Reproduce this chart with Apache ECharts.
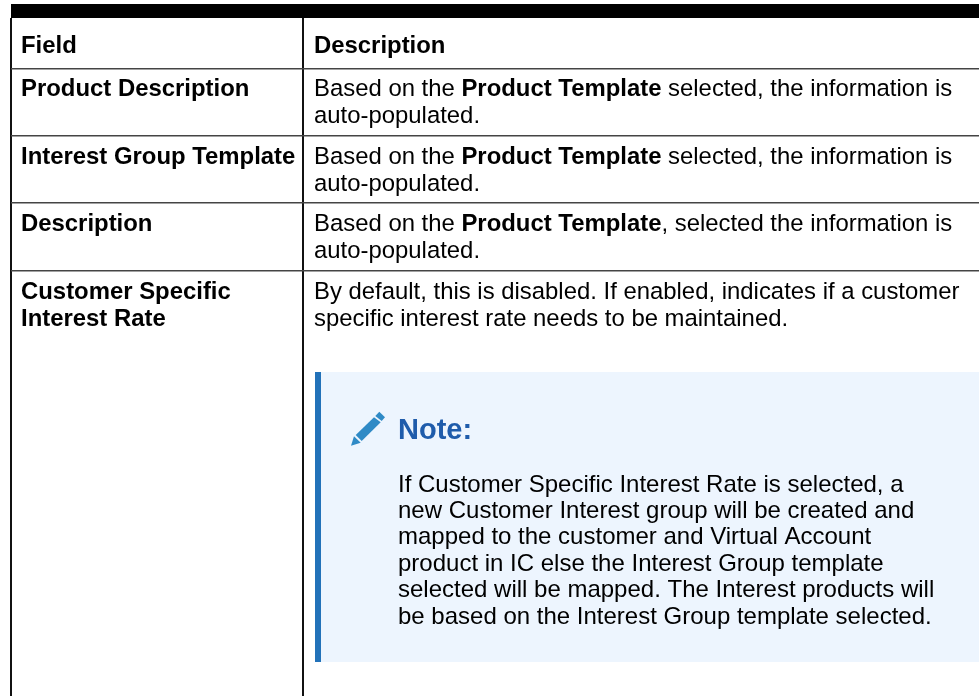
<!DOCTYPE html>
<html>
<head>
<meta charset="utf-8">
<title>Field description table</title>
<script src="https://cdn.jsdelivr.net/npm/echarts@6/dist/echarts.min.js"></script>
<style>
  html, body { margin: 0; padding: 0; background: #fff; }
  #main { width: 979px; height: 696px; }
</style>
</head>
<body>
<div id="main"></div>
<script>
// table content
const headers = ["Field", "Description"];
const fieldCells = [
  ["Product Description"],
  ["Interest Group Template"],
  ["Description"],
  ["Customer Specific", "Interest Rate"]
];
const descCells = [
  ["Based on the {b|Product Template} selected, the information is", "auto-populated."],
  ["Based on the {b|Product Template} selected, the information is", "auto-populated."],
  ["Based on the {b|Product Template}, selected the information is", "auto-populated."],
  ["By default, this is disabled. If enabled, indicates if a customer", "specific interest rate needs to be maintained."]
];
const noteTitle = "Note:";
const noteLines = [
  "If Customer Specific Interest Rate is selected, a",
  "new Customer Interest group will be created and",
  "mapped to the customer and Virtual Account",
  "product in IC else the Interest Group template",
  "selected will be mapped. The Interest products will",
  "be based on the Interest Group template selected."
];

// layout
const W = 979, H = 696;
const leftX = 11, midX = 303;
const rowLines = [69, 136, 203, 271];
const rowTops = [46, 89, 157, 224, 292];
const lineGap = 27;
const fontName = '"Liberation Sans", Arial, sans-serif';
const fontSize = 23.9;

function rect(x, y, w, h, fill) {
  return { type: "rect", shape: { x: x, y: y, width: w, height: h }, style: { fill: fill } };
}
function text(x, y, str, opts) {
  return {
    type: "text", x: x, y: y,
    style: Object.assign({
      text: str, fill: "#000", font: "normal " + fontSize + "px " + fontName,
      verticalAlign: "middle", align: "left",
      rich: { b: { font: "bold " + fontSize + "px " + fontName, fill: "#000" } }
    }, opts || {})
  };
}

const items = [];
// note box first so the rules sit on top of it
items.push(rect(315, 372, 664, 290, "#edf5fe"));
items.push(rect(315, 372, 6, 290, "#2272b9"));

// table rules
items.push(rect(11, 4, W - 11, 14, "#000"));
items.push(rect(leftX - 1, 18, 2, H - 18, "#111"));
items.push(rect(midX - 1, 18, 2, H - 18, "#111"));
rowLines.forEach(y => items.push(rect(leftX, y - 1, W - leftX, 1.5, "#444")));

// cells
const boldFont = "bold " + fontSize + "px " + fontName;
items.push(text(21, rowTops[0], headers[0], { font: boldFont }));
items.push(text(314, rowTops[0], headers[1], { font: boldFont }));
fieldCells.forEach((lines, r) => {
  lines.forEach((s, i) => items.push(text(21, rowTops[r + 1] + i * lineGap, s, { font: boldFont })));
});
descCells.forEach((lines, r) => {
  lines.forEach((s, i) => items.push(text(314, rowTops[r + 1] + i * lineGap, s)));
});

// pencil icon
const pencilFill = "#2f8ac6";
items.push({ type: "polygon", shape: { points: [[379.3, 411.7], [385, 417.3], [381.7, 421], [375.3, 416]] }, style: { fill: pencilFill } });
items.push({ type: "polygon", shape: { points: [[374, 417.3], [380.7, 422.3], [361.7, 441], [355.7, 435]] }, style: { fill: pencilFill } });
items.push({ type: "polygon", shape: { points: [[354, 436.3], [360.7, 442.7], [351, 445.7]] }, style: { fill: pencilFill } });

// note
items.push(text(398, 430.5, noteTitle, { font: "bold 29px " + fontName, fill: "#1f5cab" }));
noteLines.forEach((s, i) => items.push(text(398, 485 + i * 26.4, s, { font: "normal 24px " + fontName })));

const chart = echarts.init(document.getElementById("main"), null, { renderer: "canvas" });
chart.setOption({
  backgroundColor: "#fff",
  animation: false,
  graphic: { elements: items }
});
</script>
</body>
</html>
